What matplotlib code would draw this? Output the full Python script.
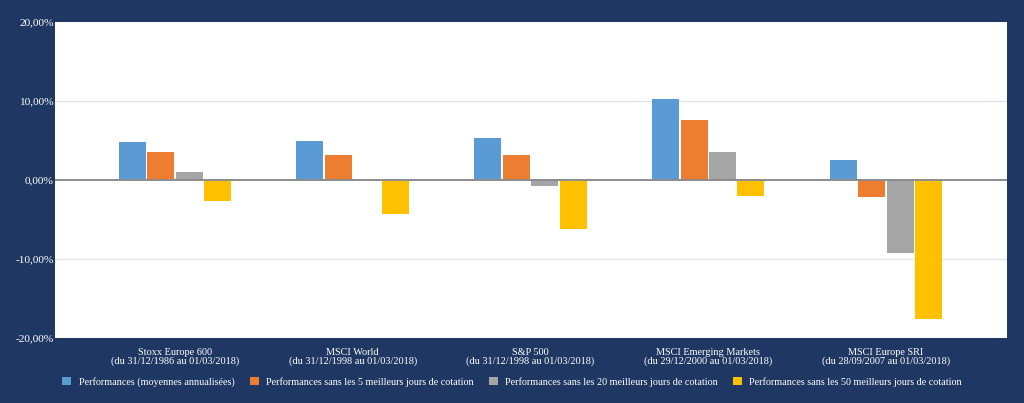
import numpy as np
import matplotlib.pyplot as plt
from matplotlib.ticker import FuncFormatter

# values (in %)
indices = ["Stoxx Europe 600", "MSCI World", "S&P 500",
           "MSCI Emerging Markets", "MSCI Europe SRI"]
periods = ["(du 31/12/1986 au 01/03/2018)", "(du 31/12/1998 au 01/03/2018)",
           "(du 31/12/1998 au 01/03/2018)", "(du 29/12/2000 au 01/03/2018)",
           "(du 28/09/2007 au 01/03/2018)"]
perf_all = [4.8, 5.0, 5.3, 10.2, 2.5]
perf_5 = [3.6, 3.2, 3.2, 7.6, -2.1]
perf_20 = [1.0, 0.0, -0.7, 3.6, -9.2]
perf_50 = [-2.6, -4.3, -6.2, -2.0, -17.6]

series_names = ["Performances (moyennes annualisées)",
                "Performances sans les 5 meilleurs jours de cotation",
                "Performances sans les 20 meilleurs jours de cotation",
                "Performances sans les 50 meilleurs jours de cotation"]
colors = ["#5b9bd5", "#ed7d31", "#a5a5a5", "#ffc000"]
bg = "#1f3763"

plt.rcParams["font.family"] = ["Liberation Serif", "DejaVu Serif"]

fig = plt.figure(figsize=(10.24, 4.03), dpi=100, facecolor=bg)
ax = fig.add_axes([55 / 1024, 65 / 403, 952 / 1024, 316 / 403])
ax.set_facecolor("white")

x = np.arange(len(indices))
step = 0.16
width = 0.152
for i, (vals, name, c) in enumerate(zip([perf_all, perf_5, perf_20, perf_50],
                                        series_names, colors)):
    ax.bar(x + (i - 1.5) * step, vals, width, color=c, label=name, zorder=2)

ax.set_ylim(-20, 20)
ax.set_xlim(-0.674, 4.68)
ax.set_yticks([-20, -10, 0, 10, 20])
ax.yaxis.set_major_formatter(FuncFormatter(lambda v, p: f"{v:.2f}%".replace(".", ",")))
ax.axhline(0, color="#8c8c8c", linewidth=1.4, zorder=3)
for v in (-10, 10):
    ax.axhline(v, color="#e3e3e3", linewidth=0.9, zorder=1)

ax.set_xticks(x)
ax.set_xticklabels([f"{a}\n{b}" for a, b in zip(indices, periods)],
                   color="white", fontsize=7.4, linespacing=0.95)
ax.tick_params(axis="x", length=0, pad=7)
ax.tick_params(axis="y", length=0, pad=1, colors="white", labelsize=8.2)
for s in ax.spines.values():
    s.set_visible(False)

leg = fig.legend(loc="center", bbox_to_anchor=(0.5, 21 / 403), ncol=4,
                 frameon=False, fontsize=7.3, handlelength=0.9, handleheight=0.9,
                 handletextpad=0.7, columnspacing=1.5, labelcolor="white")

fig.savefig("out.png", dpi=100, facecolor=bg)
